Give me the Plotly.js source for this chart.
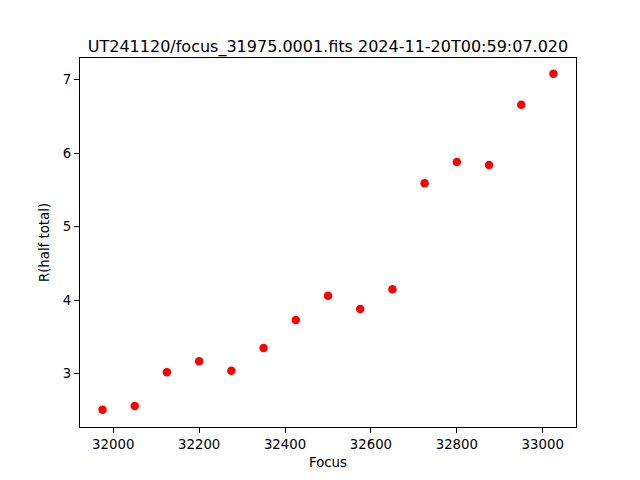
<!DOCTYPE html>
<html>
<head>
<meta charset="utf-8">
<script src="https://cdn.plot.ly/plotly-3.0.1.min.js"></script>
<style>html,body{margin:0;padding:0;background:#fff;}#chart{width:640px;height:480px;}</style>
</head>
<body>
<div id="chart"></div>
<script>
const focus = [31975, 32050, 32125, 32200, 32275, 32350, 32425, 32500, 32575, 32650, 32725, 32800, 32875, 32950, 33025];
const rHalf = [2.51, 2.56, 3.02, 3.17, 3.04, 3.35, 3.73, 4.06, 3.88, 4.15, 5.59, 5.88, 5.84, 6.66, 7.08];
const titleText = "UT241120/focus_31975.0001.fits 2024-11-20T00:59:07.020";
const xLabel = "Focus";
const yLabel = "R(half total)";

const font = "DejaVu Sans, sans-serif";
const trace = {
  x: focus, y: rHalf, type: "scatter", mode: "markers",
  marker: {color: "#ff0000", size: 8.5},
  hoverinfo: "skip"
};
const axisCommon = {
  showgrid: false, zeroline: false, showline: true, mirror: true,
  linecolor: "#000", linewidth: 1,
  ticks: "outside", ticklen: 5, tickwidth: 1, tickcolor: "#000",
  tickfont: {family: font, size: 13.3, color: "#000"}
};
const layout = {
  width: 640, height: 480,
  margin: {l: 80, r: 64, t: 58, b: 53, pad: 0},
  paper_bgcolor: "#fff", plot_bgcolor: "#fff",
  showlegend: false,
  title: {text: titleText, font: {family: font, size: 16, color: "#000"},
          x: 0.5, xref: "paper", y: 1, yref: "paper", yanchor: "bottom", pad: {b: 6}},
  xaxis: Object.assign({}, axisCommon, {
    range: [31922.5, 33077.5], tickvals: [32000, 32200, 32400, 32600, 32800, 33000],
    ticktext: ["32000", "32200", "32400", "32600", "32800", "33000"],
    title: {text: xLabel, font: {family: font, size: 13.3, color: "#000"}, standoff: 6}
  }),
  yaxis: Object.assign({}, axisCommon, {
    range: [2.275, 7.295], tickvals: [3, 4, 5, 6, 7],
    title: {text: yLabel, font: {family: font, size: 13.3, color: "#000"}, standoff: 10}
  })
};
Plotly.newPlot("chart", [trace], layout, {staticPlot: true, displayModeBar: false});
</script>
</body>
</html>
